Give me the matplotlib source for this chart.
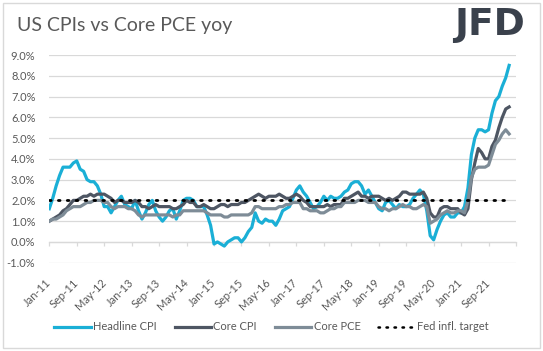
import numpy as np
import pandas as pd
import matplotlib
matplotlib.use("Agg")
import matplotlib.pyplot as plt
from matplotlib.patches import Rectangle
from matplotlib.lines import Line2D

# ---------------- data (yoy %, monthly Jan-2011 .. Mar-2022) ----------------
headline_cpi = [
    1.6, 2.1, 2.7, 3.2, 3.6, 3.6, 3.6, 3.8, 3.9, 3.5, 3.4, 3.0,   # 2011
    2.9, 2.9, 2.7, 2.3, 1.7, 1.7, 1.4, 1.7, 2.0, 2.2, 1.8, 1.7,   # 2012
    1.6, 2.0, 1.5, 1.1, 1.4, 1.8, 2.0, 1.5, 1.2, 1.0, 1.2, 1.5,   # 2013
    1.6, 1.1, 1.5, 2.0, 2.1, 2.1, 2.0, 1.7, 1.7, 1.7, 1.3, 0.8,   # 2014
    -0.1, 0.0, -0.1, -0.2, 0.0, 0.1, 0.2, 0.2, 0.0, 0.2, 0.5, 0.7,  # 2015
    1.4, 1.0, 0.9, 1.1, 1.0, 1.0, 0.8, 1.1, 1.5, 1.6, 1.7, 2.1,   # 2016
    2.5, 2.7, 2.4, 2.2, 1.9, 1.6, 1.7, 1.9, 2.2, 2.0, 2.2, 2.1,   # 2017
    2.1, 2.2, 2.4, 2.5, 2.8, 2.9, 2.9, 2.7, 2.3, 2.5, 2.2, 1.9,   # 2018
    1.6, 1.5, 1.9, 2.0, 1.8, 1.6, 1.8, 1.7, 1.7, 1.8, 2.1, 2.3,   # 2019
    2.5, 2.3, 1.5, 0.3, 0.1, 0.6, 1.0, 1.3, 1.4, 1.2, 1.2, 1.4,   # 2020
    1.4, 1.7, 2.6, 4.2, 5.0, 5.4, 5.4, 5.3, 5.4, 6.2, 6.8, 7.0,   # 2021
    7.5, 7.9, 8.5,                                                # 2022
]
core_cpi = [
    1.0, 1.1, 1.2, 1.3, 1.5, 1.6, 1.8, 2.0, 2.0, 2.1, 2.2, 2.2,
    2.3, 2.2, 2.3, 2.3, 2.3, 2.2, 2.1, 1.9, 2.0, 2.0, 1.9, 1.9,
    1.9, 2.0, 1.9, 1.7, 1.7, 1.6, 1.7, 1.8, 1.7, 1.7, 1.7, 1.7,
    1.6, 1.6, 1.7, 1.8, 2.0, 1.9, 1.9, 1.7, 1.7, 1.8, 1.7, 1.6,
    1.6, 1.7, 1.8, 1.8, 1.7, 1.8, 1.8, 1.8, 1.9, 1.9, 2.0, 2.1,
    2.2, 2.3, 2.2, 2.1, 2.2, 2.2, 2.2, 2.3, 2.2, 2.1, 2.1, 2.2,
    2.3, 2.2, 2.0, 1.9, 1.7, 1.7, 1.7, 1.7, 1.7, 1.8, 1.7, 1.8,
    1.8, 1.8, 2.1, 2.1, 2.2, 2.3, 2.4, 2.2, 2.2, 2.1, 2.2, 2.2,
    2.2, 2.1, 2.0, 2.1, 2.0, 2.1, 2.2, 2.4, 2.4, 2.3, 2.3, 2.3,
    2.3, 2.4, 2.1, 1.4, 1.2, 1.2, 1.6, 1.7, 1.7, 1.6, 1.6, 1.6,
    1.4, 1.3, 1.6, 3.0, 3.8, 4.5, 4.3, 4.0, 4.0, 4.6, 4.9, 5.5,
    6.0, 6.4, 6.5,
]
core_pce = [
    1.0, 1.1, 1.1, 1.2, 1.3, 1.5, 1.6, 1.7, 1.7, 1.7, 1.8, 1.9,
    1.9, 2.0, 2.0, 2.0, 1.9, 1.9, 1.7, 1.6, 1.7, 1.7, 1.7, 1.6,
    1.6, 1.5, 1.3, 1.2, 1.3, 1.3, 1.3, 1.3, 1.3, 1.3, 1.3, 1.3,
    1.2, 1.3, 1.3, 1.5, 1.5, 1.5, 1.5, 1.5, 1.5, 1.5, 1.4, 1.3,
    1.3, 1.3, 1.3, 1.2, 1.2, 1.3, 1.3, 1.3, 1.3, 1.3, 1.3, 1.4,
    1.7, 1.7, 1.6, 1.6, 1.6, 1.6, 1.6, 1.7, 1.7, 1.8, 1.8, 1.9,
    1.9, 1.9, 1.6, 1.6, 1.5, 1.5, 1.5, 1.4, 1.4, 1.5, 1.6, 1.6,
    1.7, 1.7, 1.9, 1.9, 1.9, 1.9, 2.0, 2.0, 2.0, 1.9, 1.9, 1.9,
    1.7, 1.6, 1.6, 1.5, 1.6, 1.6, 1.7, 1.8, 1.7, 1.7, 1.6, 1.6,
    1.7, 1.8, 1.7, 0.9, 1.0, 1.1, 1.3, 1.4, 1.5, 1.4, 1.4, 1.5,
    1.5, 1.4, 2.0, 3.1, 3.5, 3.6, 3.6, 3.6, 3.7, 4.2, 4.7, 4.9,
    5.2, 5.4, 5.2,
]
fed_target = 2.0
start_month = "2011-01-01"
tick_step = 8
y_ticks = [-1, 0, 1, 2, 3, 4, 5, 6, 7, 8, 9]
series_names = ["Headline CPI", "Core CPI", "Core PCE", "Fed infl. target"]

# ---------------- styling ----------------
C_HEAD = "#1AAFD6"
C_CORE = "#4E5663"
C_PCE = "#7E8C97"
C_TXT = "#595959"
C_GRID = "#D9D9D9"
FONT = "Lato"

n = len(headline_cpi)
dates = pd.date_range(start_month, periods=n, freq="MS")
x = np.arange(n)
x_end = 136  # axis end (May-22)

fig = plt.figure(figsize=(5.43, 3.51), dpi=100)
ax = fig.add_axes([49.3 / 543, 1 - 262.7 / 351, (516 - 49.3) / 543, (262.7 - 55) / 351])

ax.plot(x, headline_cpi, color=C_HEAD, lw=2.3, solid_joinstyle="round", label=series_names[0], zorder=3)
ax.plot(x, core_cpi, color=C_CORE, lw=2.3, solid_joinstyle="round", label=series_names[1], zorder=3)
ax.plot(x, core_pce, color=C_PCE, lw=2.3, solid_joinstyle="round", label=series_names[2], zorder=3)
ax.plot(x[:-1], np.full(n - 1, fed_target), color="black", lw=2.0,
        linestyle=(0, (0.6, 2.6)), dash_capstyle="round", label=series_names[3], zorder=4)

ax.set_xlim(0, x_end)
ax.set_ylim(-1, 9)
ax.set_yticks(y_ticks)
ax.set_yticklabels([f"{v:.1f}%" for v in y_ticks], fontsize=8, color=C_TXT, family=FONT)
ax.yaxis.grid(True, color=C_GRID, lw=0.9)
ax.set_axisbelow(True)
ax.tick_params(axis="y", length=0, pad=10)

tick_pos = list(range(0, n, tick_step))
ax.set_xticks(tick_pos)
ax.set_xticklabels([dates[i].strftime("%b-%y") for i in tick_pos], fontsize=8,
                   color=C_TXT, family=FONT, rotation=45, ha="right", va="center",
                   rotation_mode="anchor")
ax.tick_params(axis="x", length=0, pad=13)
for s in ax.spines.values():
    s.set_visible(False)

# axis line crossing at 0 with tick marks
sec = ax.secondary_xaxis((0 - (-1)) / 10)
sec.set_xticks(list(range(0, x_end + 1, tick_step)))
sec.set_xticklabels([])
sec.tick_params(axis="x", direction="out", length=3, width=0.9, color=C_GRID)
sec.spines["bottom"].set_color(C_GRID)
sec.spines["bottom"].set_linewidth(0.9)

# title and logo
fig.text(17 / 543, 1 - 26 / 351, "US CPIs vs Core PCE yoy", fontsize=14, color=C_TXT,
         family=FONT, fontweight="normal", va="center", ha="left")
fig.text(489 / 543, 1 - 25 / 351, "JFD", fontsize=27, color="#3A414C",
         family="DejaVu Sans", fontweight="bold", va="center", ha="center")

# legend
handles = [
    Line2D([], [], color=C_HEAD, lw=2.3),
    Line2D([], [], color=C_CORE, lw=2.3),
    Line2D([], [], color=C_PCE, lw=2.3),
    Line2D([], [], color="black", lw=1.8, linestyle=(0, (0.6, 2.6)), dash_capstyle="round"),
]
leg = fig.legend(handles, series_names, loc="center", bbox_to_anchor=(0.5, 1 - 327 / 351),
                 ncol=4, frameon=False, handlelength=3.3, handletextpad=0.2,
                 columnspacing=1.6, prop={"family": FONT, "size": 8})
for t in leg.get_texts():
    t.set_color(C_TXT)

# outer border
fig.add_artist(Rectangle((3 / 543, 1 - 347.5 / 351), (540 - 3) / 543, (347.5 - 2.5) / 351,
                         transform=fig.transFigure, fill=False, edgecolor=C_GRID, lw=1.0))

fig.savefig("out.png", dpi=100)
